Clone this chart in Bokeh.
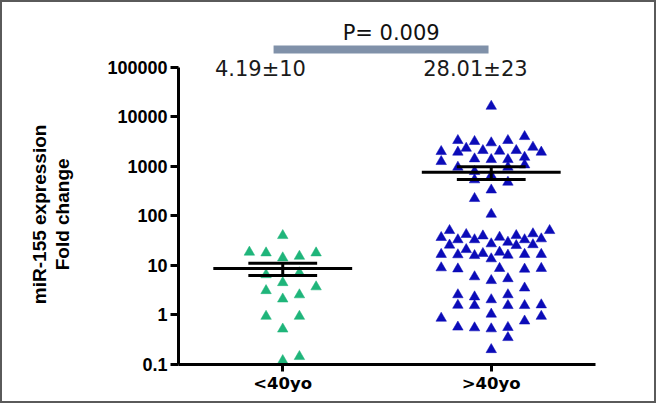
import numpy as np
from bokeh.plotting import figure
from bokeh.models import Range1d, FixedTicker, NumeralTickFormatter, Label, ColumnDataSource
from bokeh.embed import file_html
from bokeh.resources import INLINE

# ---- data -------------------------------------------------------------
groups = ["<40yo", ">40yo"]

# miR-155 fold change, patients younger than 40
lt40_values = [40.1, 18.5, 17.9, 14.2, 15.3, 17.9, 6.5, 7.1, 4.5, 3.1, 3.7,
               2.1, 2.55, 0.94, 0.94, 0.52, 0.12, 0.145]
# column slot of each point inside the scatter-dot swarm
lt40_slot = [0, -4, -2, 0, 2, 4, -2, 2, 0, -2, 4, 0, 2, -2, 2, 0, 0, 2]

# miR-155 fold change, patients older than 40
gt40_values = [16300, 3320, 3170, 2980, 3320, 3990, 1990, 1930, 2320, 2085,
               2020, 2085, 2430, 1930, 1250, 1415, 1370, 1370, 1525, 960,
               1070, 960, 785, 652, 534, 478, 333, 224, 108,
               36.6, 50.6, 33.0, 42.1, 33.0, 39.4, 27.3, 37.1, 29.4, 40.1,
               33.0, 43.5, 34.4, 50.6,
               16.7, 25.7, 16.4, 20.9, 15.8, 17.4, 13.6, 18.5, 16.1, 25.2,
               16.7, 26.2, 16.7,
               8.95, 8.5, 8.7, 8.4, 8.7,
               5.9, 4.95, 5.4, 3.5, 2.56, 2.32, 2.03, 2.56, 1.57, 1.55, 1.55,
               1.55, 1.60, 1.04, 0.86, 0.755, 0.94, 0.57, 0.55, 0.525, 0.56,
               0.35, 0.20]
gt40_slot = [0, -4, -2, 0, 2, 4, -6, -4, -3, -1,
             1, 3, 5, 6, -6, -2, 0, 2, 4, -4,
             4, 2, -2, 0, -2, 2, 0, -2, 0,
             -6, -5, -4, -3, -2, -1, 0, 1, 2, 3,
             4, 5, 6, 7,
             -6, -5, -4, -3, -2, -1, 0, 1, 2, 3,
             4, 5, 6,
             -6, -4, 1, 4, 6,
             -2, 0, 2, 4, -4, -2, 0, 2, -4, -2, 2,
             4, 6, 0, -6, 4, 6, -4, -2, 0, 2,
             2, 0]

y_ticks = [0.1, 1, 10, 100, 1000, 10000, 100000]
y_label_lines = ["miR-155 expression", "Fold change"]
stat_labels = ["4.19\u00b110", "28.01\u00b123"]
p_value_label = "P= 0.009"

group_colors = ["#1fb57a", "#0b0bb8"]

# ---- figure -----------------------------------------------------------
# the frame fills the whole canvas; axes are pinned with fixed_location
p = figure(width=656, height=403, output_backend="svg", toolbar_location=None,
           x_range=Range1d(-0.8441, 2.3022), y_range=Range1d(10 ** -1.827, 10 ** 6.306),
           y_axis_type="log", min_border_left=0, min_border_right=0,
           min_border_top=0, min_border_bottom=0)
p.styles = {"border": "2px solid #5a5a5a"}
p.outline_line_color = None
p.xgrid.grid_line_color = None
p.ygrid.grid_line_color = None
p.background_fill_color = "white"
p.border_fill_color = "white"

slot_w = 0.04
centers = [0.5, 1.5]
for gi, (vals, slots) in enumerate([(lt40_values, lt40_slot), (gt40_values, gt40_slot)]):
    vals = np.array(vals, dtype=float)
    xs = centers[gi] + np.array(slots) * slot_w
    src = ColumnDataSource(dict(x=xs, y=vals))
    p.scatter("x", "y", source=src, marker="triangle", size=10.5,
              fill_color=group_colors[gi], line_color=group_colors[gi], line_width=0.5)
    mean = vals.mean()
    sem = vals.std(ddof=1) / np.sqrt(len(vals))
    c = centers[gi]
    p.segment(x0=[c - 0.333], x1=[c + 0.333], y0=[mean], y1=[mean],
              line_color="black", line_width=3)
    p.segment(x0=[c - 0.165, c - 0.165], x1=[c + 0.165, c + 0.165],
              y0=[mean + sem, mean - sem], y1=[mean + sem, mean - sem],
              line_color="black", line_width=3)
    p.segment(x0=[c], x1=[c], y0=[mean - sem], y1=[mean + sem],
              line_color="black", line_width=3)

# significance bar and text
p.segment(x0=[0.456], x1=[1.487], y0=[10 ** 5.357], y1=[10 ** 5.357],
          line_color="#8091a9", line_width=8, line_cap="butt")
p.add_layout(Label(x=1.02, y=10 ** 5.70, text=p_value_label, text_font="DejaVu Sans",
                   text_font_size="21px", text_align="center", text_baseline="middle",
                   text_color="#111111"))
for c, lab, dx in zip(centers, stat_labels, [-0.107, -0.076]):
    p.add_layout(Label(x=c + dx, y=10 ** 4.974, text=lab, text_font="DejaVu Sans",
                       text_font_size="21px", text_align="center",
                       text_baseline="middle", text_color="#1a1a1a"))

# y-axis title (two centred lines, centred on the bounded axis)
for lx, line in zip([-0.669, -0.556], y_label_lines):
    p.add_layout(Label(x=lx, y=10 ** 2.03, text=line, angle=np.pi / 2,
                       text_font="Liberation Sans", text_font_style="bold",
                       text_font_size="19px", text_align="center",
                       text_baseline="middle", text_color="black"))

# axes
xa = p.xaxis[0]
xa.fixed_location = 0.1
xa.bounds = (0, 2)
xa.ticker = FixedTicker(ticks=centers)
xa.major_label_overrides = {0.5: groups[0], 1.5: groups[1]}
xa.axis_line_width = 3
xa.major_tick_line_width = 3
xa.major_tick_out = 7
xa.major_tick_in = 0
xa.minor_tick_line_color = None
xa.major_label_text_font = "DejaVu Sans"
xa.major_label_text_font_style = "bold"
xa.major_label_text_font_size = "16.5px"
xa.major_label_text_color = "black"
xa.major_label_standoff = 2

ya = p.yaxis[0]
ya.fixed_location = 0
ya.bounds = (0.1, 100000)
ya.ticker = FixedTicker(ticks=y_ticks)
ya.formatter = NumeralTickFormatter(format="0[.][0]")
ya.axis_line_width = 3
ya.major_tick_line_width = 3
ya.major_tick_out = 8
ya.major_tick_in = 0
ya.minor_tick_line_color = None
ya.major_label_text_font = "Liberation Sans"
ya.major_label_text_font_style = "bold"
ya.major_label_text_font_size = "18px"
ya.major_label_text_color = "black"
ya.major_label_standoff = 3

open("out.html", "w").write(file_html(p, INLINE))
